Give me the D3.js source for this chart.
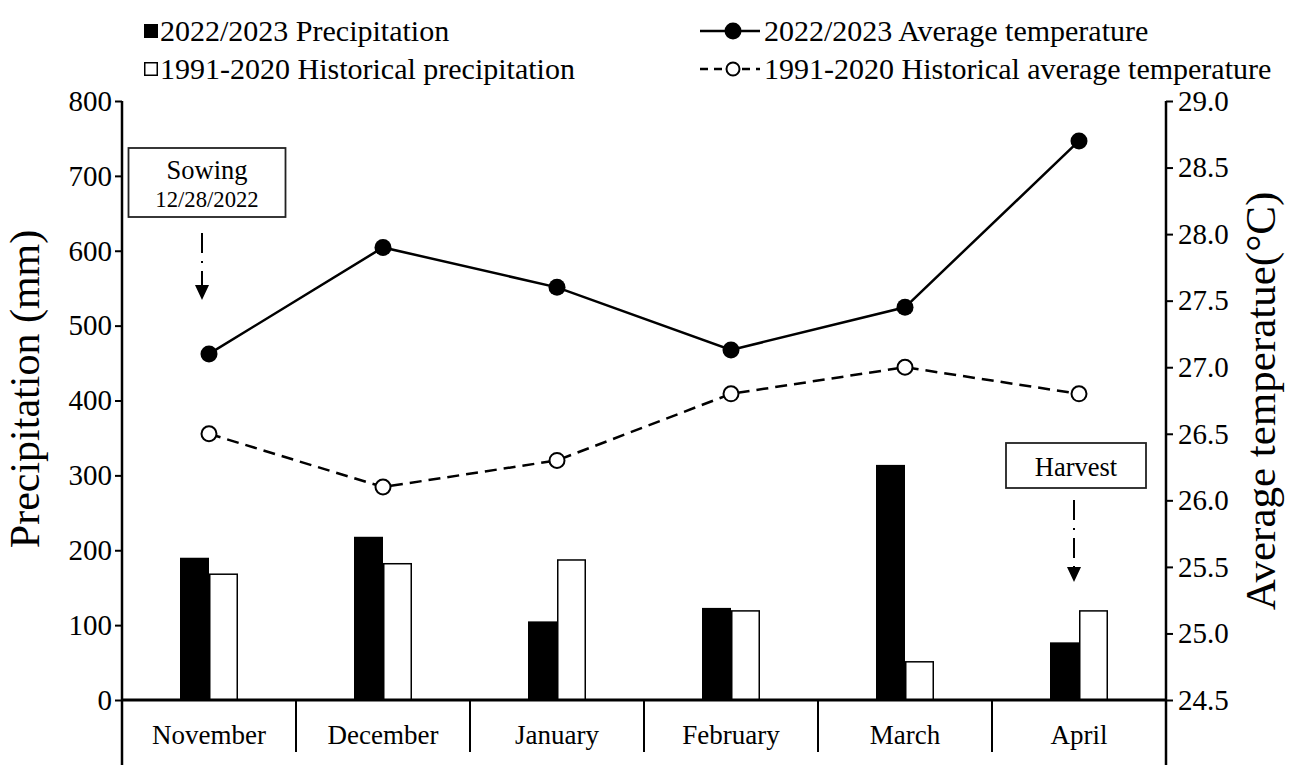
<!DOCTYPE html>
<html>
<head>
<meta charset="utf-8">
<script src="https://cdn.jsdelivr.net/npm/d3@7"></script>
<style>
  body { margin: 0; background: #fff; }
  svg text { font-family: "Liberation Serif", "Times New Roman", serif; fill: #000; }
</style>
</head>
<body>
<div id="chart"></div>
<script>
// chart data
const months = ['November', 'December', 'January', 'February', 'March', 'April'];
const precip2223 = [190, 218, 105, 123, 314, 77];
const precipHist = [168, 182, 187, 119, 51, 119];
const temp2223 = [27.1, 27.9, 27.6, 27.13, 27.45, 28.7];
const tempHist = [26.5, 26.1, 26.3, 26.8, 27.0, 26.8];
const precipTicks = [0, 100, 200, 300, 400, 500, 600, 700, 800];
const tempTicks = [24.5, 25.0, 25.5, 26.0, 26.5, 27.0, 27.5, 28.0, 28.5, 29.0];
const legendBars = ['2022/2023 Precipitation', '1991-2020 Historical precipitation'];
const legendLines = ['2022/2023 Average temperature', '1991-2020 Historical average temperature'];

// layout
const width = 1297, height = 765;
const plotLeft = 122, plotRight = 1166, plotTop = 101, plotBottom = 700;
const barW = 29;

const svg = d3.select('#chart').append('svg')
  .attr('width', width)
  .attr('height', height);

const x = d3.scaleBand().domain(months).range([plotLeft, plotRight]);
const yP = d3.scaleLinear().domain([0, 800]).range([plotBottom, plotTop]);
const yT = d3.scaleLinear().domain([24.5, 29]).range([plotBottom, plotTop]);
const cx = (m) => x(m) + x.bandwidth() / 2;

// bars
svg.selectAll('.bar-now')
  .data(months)
  .join('rect')
    .attr('class', 'bar-now')
    .attr('x', (d) => cx(d) - barW)
    .attr('y', (d, i) => yP(precip2223[i]))
    .attr('width', barW)
    .attr('height', (d, i) => plotBottom - yP(precip2223[i]))
    .attr('fill', '#000');

svg.selectAll('.bar-hist')
  .data(months)
  .join('rect')
    .attr('class', 'bar-hist')
    .attr('x', (d) => cx(d) + 0.75)
    .attr('y', (d, i) => yP(precipHist[i]))
    .attr('width', barW - 1.5)
    .attr('height', (d, i) => plotBottom - yP(precipHist[i]))
    .attr('fill', '#fff')
    .attr('stroke', '#000')
    .attr('stroke-width', 1.5);

// axes
const axisL = svg.append('g')
  .attr('transform', `translate(${plotLeft},0)`)
  .call(d3.axisLeft(yP).tickValues(precipTicks).tickSize(7).tickPadding(3));
const axisR = svg.append('g')
  .attr('transform', `translate(${plotRight},0)`)
  .call(d3.axisRight(yT).tickValues(tempTicks).tickFormat(d3.format('.1f')).tickSize(7).tickPadding(5));
[axisL, axisR].forEach((g) => {
  g.select('.domain').remove();
  g.selectAll('line').attr('stroke', '#000').attr('stroke-width', 2);
  g.selectAll('text').attr('font-size', 29).attr('fill', '#000')
    .style('font-family', '"Liberation Serif", "Times New Roman", serif');
});
svg.append('line')
  .attr('x1', plotLeft).attr('x2', plotLeft).attr('y1', plotTop).attr('y2', height)
  .attr('stroke', '#000').attr('stroke-width', 2.5);
svg.append('line')
  .attr('x1', plotRight).attr('x2', plotRight).attr('y1', plotTop).attr('y2', height)
  .attr('stroke', '#000').attr('stroke-width', 2.5);
svg.append('line')
  .attr('x1', plotLeft).attr('x2', plotRight).attr('y1', plotBottom).attr('y2', plotBottom)
  .attr('stroke', '#000').attr('stroke-width', 3);

// category dividers and labels
svg.selectAll('.divider')
  .data(months.slice(1))
  .join('line')
    .attr('class', 'divider')
    .attr('x1', (d) => x(d)).attr('x2', (d) => x(d))
    .attr('y1', plotBottom).attr('y2', 752)
    .attr('stroke', '#000').attr('stroke-width', 2);
svg.selectAll('.month')
  .data(months)
  .join('text')
    .attr('class', 'month')
    .attr('x', cx)
    .attr('y', 744)
    .attr('text-anchor', 'middle')
    .attr('font-size', 27)
    .text((d) => d);

// axis titles
svg.append('text')
  .attr('transform', 'translate(39,389) rotate(-90)')
  .attr('text-anchor', 'middle')
  .attr('font-size', 42)
  .text('Precipitation (mm)');
svg.append('text')
  .attr('transform', 'translate(1275,401) rotate(-90)')
  .attr('text-anchor', 'middle')
  .attr('font-size', 43)
  .text('Average temperatue(°C)');

// temperature lines
const tempLine = d3.line().x((d, i) => cx(months[i])).y((d) => yT(d));
svg.append('path')
  .attr('d', tempLine(tempHist))
  .attr('fill', 'none').attr('stroke', '#000').attr('stroke-width', 2.5)
  .attr('stroke-dasharray', '12,7');
svg.append('path')
  .attr('d', tempLine(temp2223))
  .attr('fill', 'none').attr('stroke', '#000').attr('stroke-width', 2.5);
svg.selectAll('.dot-hist')
  .data(tempHist)
  .join('circle')
    .attr('class', 'dot-hist')
    .attr('cx', (d, i) => cx(months[i]))
    .attr('cy', (d) => yT(d))
    .attr('r', 7.5)
    .attr('fill', '#fff').attr('stroke', '#000').attr('stroke-width', 2);
svg.selectAll('.dot-now')
  .data(temp2223)
  .join('circle')
    .attr('class', 'dot-now')
    .attr('cx', (d, i) => cx(months[i]))
    .attr('cy', (d) => yT(d))
    .attr('r', 8.5)
    .attr('fill', '#000');

// annotations (box + dash-dot arrow)
function annotate(bx, by, bw, bh, lines, ax, ay1, ay2) {
  const g = svg.append('g');
  g.append('rect')
    .attr('x', bx).attr('y', by).attr('width', bw).attr('height', bh)
    .attr('fill', '#fff').attr('stroke', '#222').attr('stroke-width', 1.8);
  lines.forEach((l) => {
    g.append('text')
      .attr('x', bx + bw / 2).attr('y', l.y)
      .attr('text-anchor', 'middle')
      .attr('font-size', l.size)
      .text(l.text);
  });
  g.append('line')
    .attr('x1', ax).attr('x2', ax).attr('y1', ay1).attr('y2', ay2 - 14)
    .attr('stroke', '#000').attr('stroke-width', 2)
    .attr('stroke-dasharray', '20,8,2,8');
  g.append('path')
    .attr('d', `M${ax - 7},${ay2 - 15}L${ax + 7},${ay2 - 15}L${ax},${ay2}Z`)
    .attr('fill', '#000');
}
annotate(128.5, 148, 157, 69,
  [{ text: 'Sowing', y: 179, size: 26.5 }, { text: '12/28/2022', y: 207, size: 22.7 }],
  202, 233, 300);
annotate(1006, 443, 140, 45,
  [{ text: 'Harvest', y: 476, size: 26.5 }],
  1074, 500, 582);

// legend
const leg = svg.append('g');
legendBars.forEach((t, i) => {
  const yy = 31 + i * 38;
  leg.append('rect')
    .attr('x', 144 + (i ? 0.75 : 0)).attr('y', yy - 7 + (i ? 0.75 : 0))
    .attr('width', i ? 12.5 : 14).attr('height', i ? 12.5 : 14)
    .attr('fill', i ? '#fff' : '#000')
    .attr('stroke', i ? '#000' : 'none').attr('stroke-width', 1.5);
  leg.append('text')
    .attr('x', 160).attr('y', yy + 10)
    .attr('font-size', 30)
    .text(t);
});
legendLines.forEach((t, i) => {
  const yy = 31 + i * 38;
  leg.append('line')
    .attr('x1', 700).attr('x2', 760).attr('y1', yy).attr('y2', yy)
    .attr('stroke', '#000').attr('stroke-width', 2.5)
    .attr('stroke-dasharray', i ? '8,6' : null);
  leg.append('circle')
    .attr('cx', 733).attr('cy', yy)
    .attr('r', i ? 6.5 : 8.5)
    .attr('fill', i ? '#fff' : '#000')
    .attr('stroke', '#000').attr('stroke-width', i ? 2 : 0);
  leg.append('text')
    .attr('x', 764).attr('y', yy + 10)
    .attr('font-size', 30)
    .text(t);
});
</script>
</body>
</html>
